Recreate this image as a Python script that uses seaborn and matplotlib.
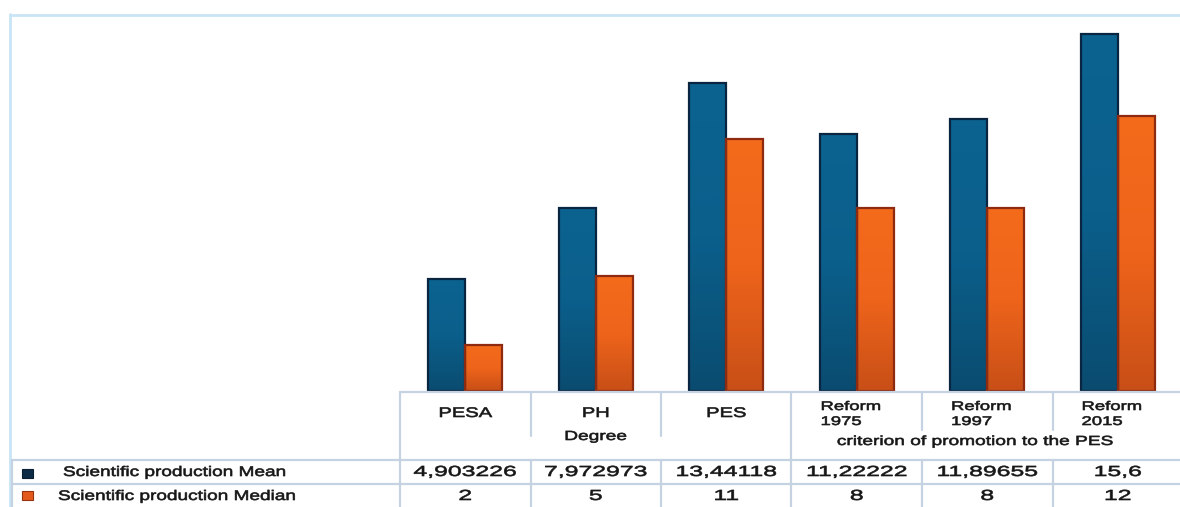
import matplotlib
matplotlib.use("Agg")
import matplotlib.pyplot as plt
from matplotlib.lines import Line2D
from matplotlib.patches import Rectangle
from matplotlib.patheffects import AbstractPathEffect
from matplotlib.transforms import Affine2D
from matplotlib.colors import LinearSegmentedColormap
import numpy as np
import seaborn as sns
import pandas as pd

# Data
categories = ["PESA", "PH", "PES", "Reform 1975", "Reform 1997", "Reform 2015"]
header_labels = ["PESA", "PH", "PES", "Reform\n1975", "Reform\n1997", "Reform\n2015"]
mean_values = [4.903226, 7.972973, 13.44118, 11.22222, 11.89655, 15.6]
median_values = [2, 5, 11, 8, 8, 12]
mean_labels = ["4,903226", "7,972973", "13,44118", "11,22222", "11,89655", "15,6"]
median_labels = ["2", "5", "11", "8", "8", "12"]
series_names = ["Scientific production Mean", "Scientific production Median"]
group_labels = ["Degree", "criterion of promotion to the PES"]

W, H = 1180, 507
DPI = 100
sns.set_theme(style="white")
plt.rcParams["font.family"] = ["Liberation Sans", "DejaVu Sans"]

fig = plt.figure(figsize=(W / DPI, H / DPI), dpi=DPI)
fig.patch.set_facecolor("white")


def fx(x):
    return x / W


def fy(y):
    return 1 - y / H


text_color = "#161616"


class HStretch(AbstractPathEffect):
    """Widen glyphs horizontally about a fixed pixel column, with a light outline."""

    def __init__(self, sx, x0, stroke=0.45):
        super().__init__()
        self.sx = sx
        self.x0 = x0
        self.stroke = stroke

    def draw_path(self, renderer, gc, tpath, affine, rgbFace=None):
        t = affine + Affine2D().translate(-self.x0, 0).scale(self.sx, 1).translate(self.x0, 0)
        gc0 = renderer.new_gc()
        gc0.copy_properties(gc)
        gc0.set_linewidth(self.stroke)
        gc0.set_foreground(text_color)
        gc0.set_joinstyle("round")
        renderer.draw_path(gc0, tpath, t, rgbFace)
        gc0.restore()


def label(x, y, s, size, sx=1.45, ha="center", **kw):
    fig.text(fx(x), fy(y), s, ha=ha, va="center", fontsize=size, color=text_color,
             path_effects=[HStretch(sx, x)], **kw)


# Plot area
ax_left, ax_right, ax_top, ax_bottom = 400, 1183, 14, 391
ax = fig.add_axes([fx(ax_left), fy(ax_bottom), (ax_right - ax_left) / W, (ax_bottom - ax_top) / H])

df = pd.DataFrame({
    "category": categories * 2,
    "value": mean_values + median_values,
    "series": [series_names[0]] * len(categories) + [series_names[1]] * len(categories),
})

mean_color = "#0b5e8a"
median_color = "#f0661a"
mean_edge = "#0a2542"
median_edge = "#8e2a10"

sns.barplot(data=df, x="category", y="value", hue="series", order=categories,
            hue_order=series_names, palette=[mean_color, median_color], saturation=1,
            width=0.565, gap=0, linewidth=1.6, ax=ax, legend=False)

# Vertical shading inside each bar
mean_cmap = LinearSegmentedColormap.from_list("mean", ["#0a4c70", "#0b5f8b", "#0b6390"])
median_cmap = LinearSegmentedColormap.from_list("median", ["#c84f17", "#ee641b", "#f46b1c"])
grad = np.linspace(0, 1, 256).reshape(-1, 1)
for i, patch in enumerate(list(ax.patches)):
    is_mean = i < len(categories)
    x0, y0 = patch.get_x(), patch.get_y()
    w, h = patch.get_width(), patch.get_height()
    im = ax.imshow(grad, extent=[x0, x0 + w, y0, y0 + h], origin="lower", aspect="auto",
                   cmap=mean_cmap if is_mean else median_cmap, zorder=1, interpolation="bilinear")
    im.set_clip_path(patch)
    patch.set_facecolor("none")
    patch.set_zorder(2)
    patch.set_edgecolor(mean_edge if is_mean else median_edge)

ax.set_xlim(-0.5, len(categories) - 0.5)
ax.set_ylim(0, 16.46)
ax.set_xlabel("")
ax.set_ylabel("")
ax.set_xticks([])
ax.set_yticks([])
for s in ax.spines.values():
    s.set_visible(False)
ax.patch.set_alpha(0)

# Outer frame
frame_color = "#c9e5f5"
fig.add_artist(Line2D([fx(9.5), fx(9.5)], [fy(14), fy(507)], color=frame_color, lw=2))
fig.add_artist(Line2D([fx(9.5), fx(1180)], [fy(14.5), fy(14.5)], color=frame_color, lw=2))

# Data table grid
grid = "#c4d2e2"
col_edges = [ax_left + (ax_right - ax_left) * k / len(categories) for k in range(len(categories) + 1)]
centers = [(col_edges[k] + col_edges[k + 1]) / 2 for k in range(len(categories))]


def hline(x0, x1, y):
    fig.add_artist(Line2D([fx(x0), fx(x1)], [fy(y), fy(y)], color=grid, lw=1.6))


def vline(x, y0, y1):
    fig.add_artist(Line2D([fx(x), fx(x)], [fy(y0), fy(y1)], color=grid, lw=1.6))


hline(ax_left, W, 392)
hline(12, W, 460)
hline(12, W, 484)
vline(12, 460, 507)
vline(ax_left, 392, 507)
vline(col_edges[3], 392, 507)
for k in (1, 2):
    vline(col_edges[k], 392, 436)
    vline(col_edges[k], 460, 507)
for k in (4, 5):
    vline(col_edges[k], 392, 430)
    vline(col_edges[k], 460, 507)

# Column headers
for k, lab in enumerate(header_labels):
    if "\n" in lab:
        top, bottom = lab.split("\n")
        label(col_edges[k] + 29, 407, top, 9, sx=1.48, ha="left")
        label(col_edges[k] + 29, 422, bottom, 9, sx=1.48, ha="left")
    else:
        label(centers[k], 413, lab, 10, sx=1.45)

label((col_edges[0] + col_edges[3]) / 2, 437, group_labels[0], 9.5, sx=1.45)
label((col_edges[3] + col_edges[6]) / 2 - 12, 442, group_labels[1], 9.5, sx=1.45)

# Table values
for k in range(len(categories)):
    label(centers[k], 472, mean_labels[k], 10.5, sx=1.7)
    label(centers[k], 496, median_labels[k], 10.5, sx=1.7)

# Row legend
fig.add_artist(Rectangle((fx(22), fy(478)), 11 / W, 9 / H, facecolor="#0b2b47",
                         edgecolor="#0b1f33", lw=0.8))
fig.add_artist(Rectangle((fx(22), fy(500)), 11 / W, 9 / H, facecolor="#e45a1c",
                         edgecolor="#9a3210", lw=0.8))
label(63, 472, series_names[0], 10, sx=1.37, ha="left")
label(58, 496, series_names[1], 10, sx=1.37, ha="left")

fig.savefig("out.png", dpi=DPI)
